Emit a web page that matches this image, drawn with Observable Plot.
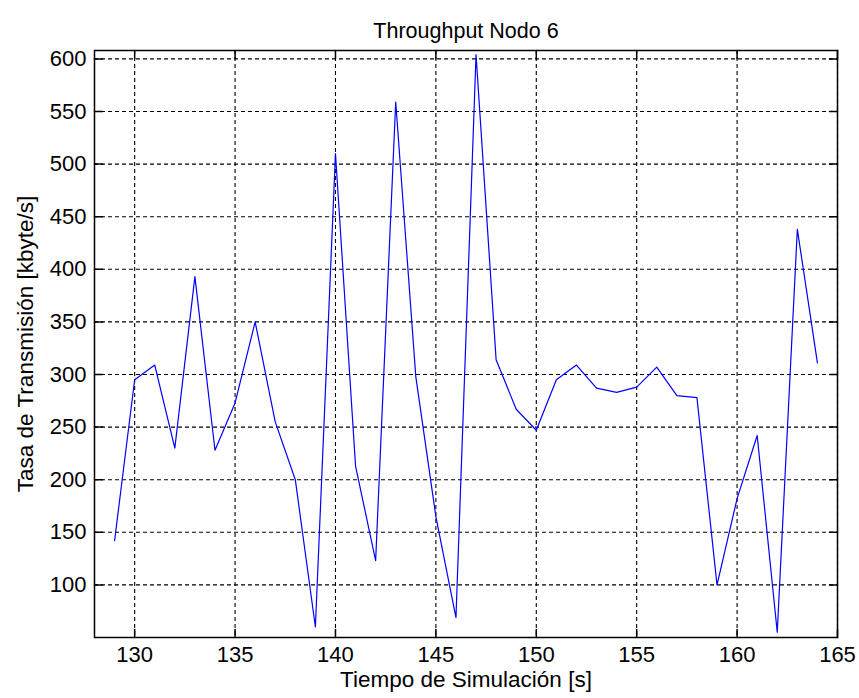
<!DOCTYPE html>
<html>
<head>
<meta charset="utf-8">
<script src="https://cdn.jsdelivr.net/npm/d3@7"></script>
<script src="https://cdn.jsdelivr.net/npm/@observablehq/plot@0.6"></script>
<style>
  body { margin: 0; background: #fff; }
  svg { font-family: "Liberation Sans", Arial, sans-serif; }
</style>
</head>
<body>
<div id="chart"></div>
<script>
const titleText = "Throughput Nodo 6";
const xLabel = "Tiempo de Simulación [s]";
const yLabel = "Tasa de Transmisión [kbyte/s]";

const times = [129,130,131,132,133,134,135,136,137,138,139,140,141,142,143,144,145,146,
               147,148,149,150,151,152,153,154,155,156,157,158,159,160,161,162,163,164];
const rates = [142,295,309,230,393,228,273,350,255,200,60,510,213,123,559,298,165,69,
               604,314,267,247,295,309,287,283,288,307,280,278,100,182,242,55,438,311];

const xTicks = [130,135,140,145,150,155,160,165];
const yTicks = [100,150,200,250,300,350,400,450,500,550,600];
const xDomain = [128,165];
const yDomain = [50,608];

const data = times.map((t,i) => ({t, v: rates[i]}));

const tickShape = { draw(ctx, l) { ctx.moveTo(0, 0); ctx.lineTo(0, -l); } };
const grid = {stroke: "black", strokeOpacity: 1, strokeWidth: 1.1, strokeDasharray: "4,3"};

const chart = Plot.plot({
  width: 859,
  height: 698,
  marginLeft: 94,
  marginRight: 22,
  marginTop: 50,
  marginBottom: 61,
  style: {fontSize: "22px", fontFamily: "'Liberation Sans', Arial, sans-serif", color: "black", background: "white"},
  x: {domain: xDomain, label: null},
  y: {domain: yDomain, label: null},
  marks: [
    Plot.gridX(xTicks, grid),
    Plot.gridY(yTicks, grid),
    Plot.vector(xTicks, {x: d => d, frameAnchor: "bottom", rotate: 0, length: 8, anchor: "start", shape: tickShape, stroke: "black"}),
    Plot.vector(xTicks, {x: d => d, frameAnchor: "top", rotate: 180, length: 8, anchor: "start", shape: tickShape, stroke: "black"}),
    Plot.vector(yTicks, {y: d => d, frameAnchor: "left", rotate: 90, length: 8, anchor: "start", shape: tickShape, stroke: "black"}),
    Plot.vector(yTicks, {y: d => d, frameAnchor: "right", rotate: -90, length: 8, anchor: "start", shape: tickShape, stroke: "black"}),
    Plot.line(data, {x: "t", y: "v", stroke: "#0000ff", strokeWidth: 1.2}),
    Plot.frame({stroke: "black", strokeWidth: 1.5}),
    Plot.axisX(xTicks, {tickSize: 0, tickPadding: 9, fontSize: 22, label: null}),
    Plot.axisY(yTicks, {tickSize: 0, tickPadding: 8, fontSize: 22, label: null}),
    Plot.text([titleText], {frameAnchor: "top", dy: -28, fontSize: 21.5, fill: "black", textAnchor: "middle"}),
    Plot.text([xLabel], {frameAnchor: "bottom", dy: 49, fontSize: 22.5, fill: "black", textAnchor: "middle"}),
    Plot.text([yLabel], {frameAnchor: "left", dx: -69, rotate: -90, fontSize: 22.5, fill: "black", textAnchor: "middle"})
  ]
});
document.getElementById("chart").appendChild(chart);
</script>
</body>
</html>
